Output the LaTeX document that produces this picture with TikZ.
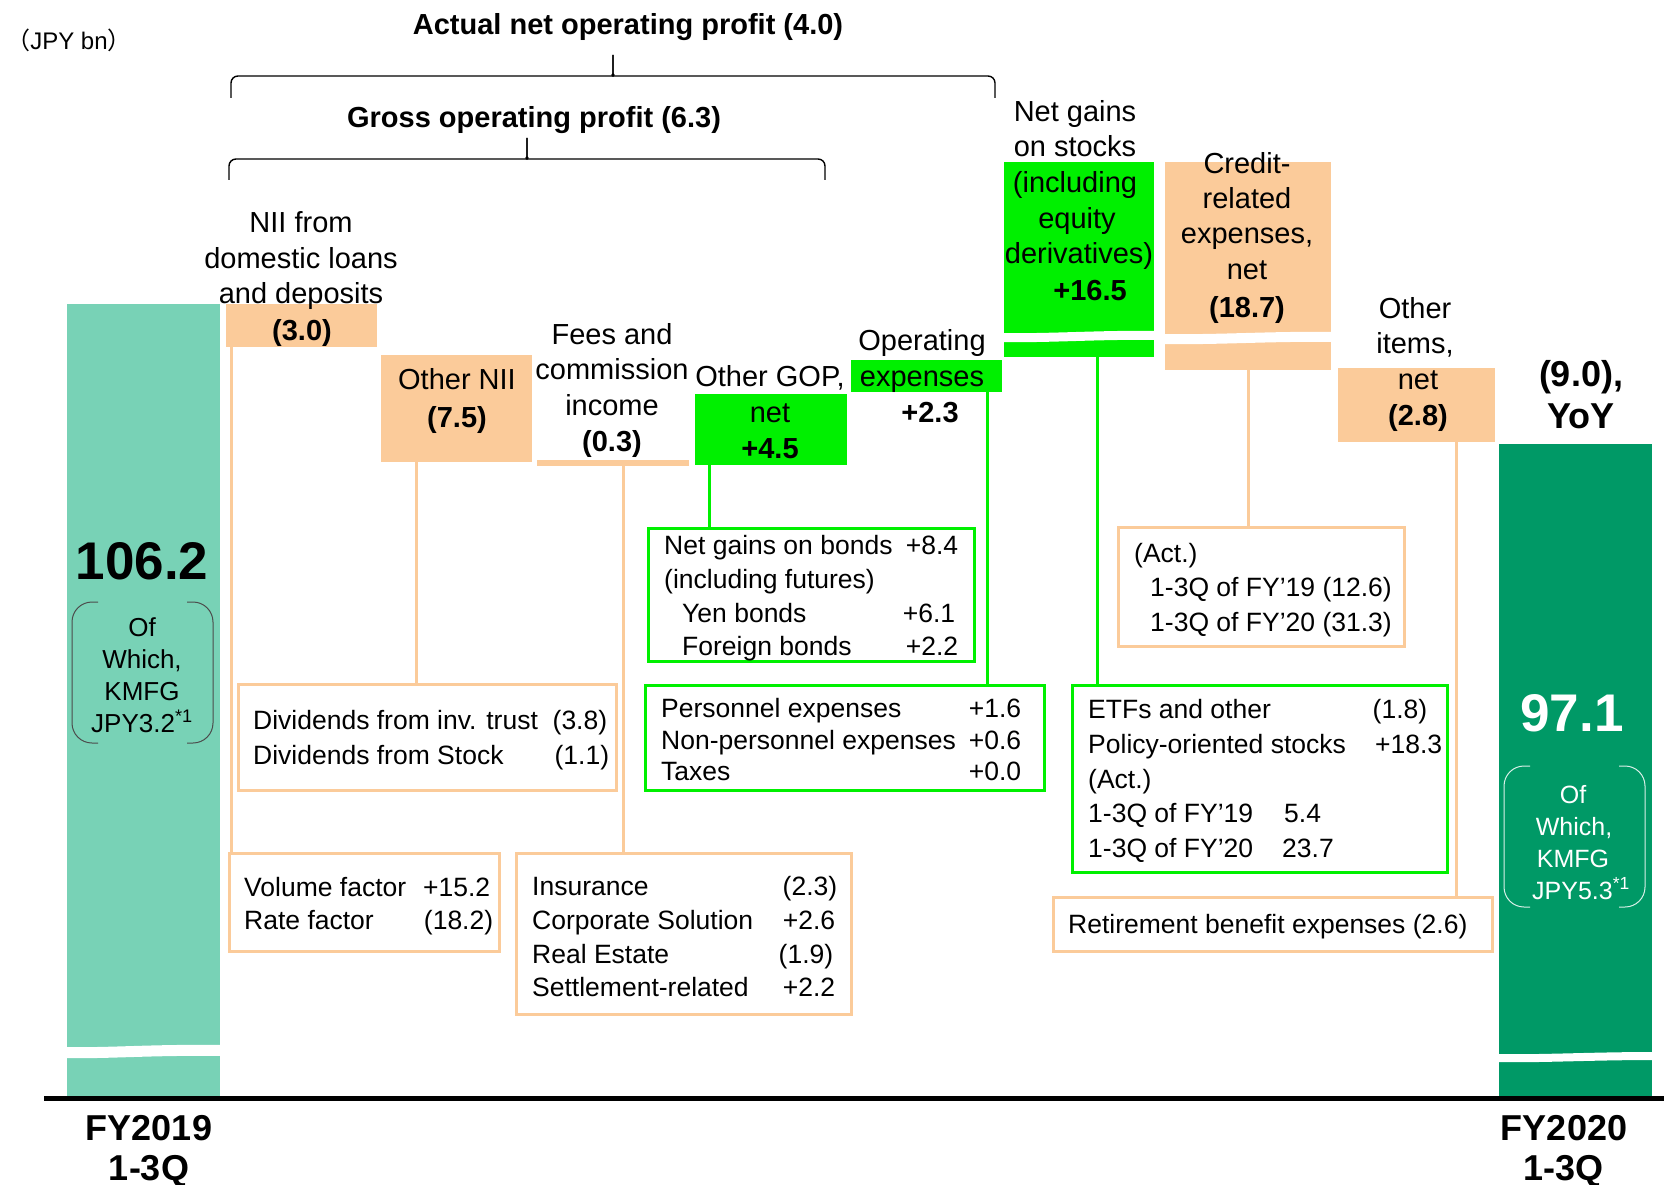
\documentclass[tikz,border=0pt]{standalone}
\usepackage{fontspec}
\setmainfont{Liberation Sans}
\newfontfamily\cjkfont{Noto Sans CJK JP}
\definecolor{cOrg}{RGB}{251,203,154}
\definecolor{cLime}{RGB}{0,240,0}
\definecolor{cDark}{RGB}{0,153,102}
\definecolor{cTeal}{RGB}{120,210,182}
\newcommand\lr[3]{\strut\makebox[#1pt][l]{#2\hfill#3}}
\begin{document}
\begin{tikzpicture}[x=1pt,y=-1pt,
 lab/.style={inner sep=0pt, anchor=base, font=\fontsize{29}{35}\selectfont},
 val/.style={inner sep=0pt, anchor=base, font=\fontsize{29}{35}\selectfont\bfseries},
 big/.style={inner sep=0pt, anchor=base, font=\fontsize{36}{42}\selectfont\bfseries},
 huge/.style={inner sep=0pt, anchor=base, font=\fontsize{53}{60}\selectfont\bfseries},
 small/.style={inner sep=0pt, anchor=base, font=\fontsize{26}{32}\selectfont},
 seg/.style={inner sep=0pt, anchor=north west, outer sep=0pt},
 ofill/.style={seg, fill=cOrg},
 gfill/.style={seg, fill=cLime},
 obox/.style={seg, draw=cOrg, line width=3pt},
 gbox/.style={seg, draw=cLime, line width=3pt},
 oline/.style={draw=cOrg, line width=3pt},
 gline/.style={draw=cLime, line width=3pt},
 det/.style={inner sep=0pt, anchor=north west, align=left},
 bracefig/.style={draw=black, line width=1.4pt, rounded corners=7pt},
]
\useasboundingbox (0,0) rectangle (1664,1185);

% ---- bars
\node[seg, fill=cTeal, minimum width=153pt, minimum height=792pt] (bar19) at (67,304) {};
\node[seg, fill=cDark, minimum width=153pt, minimum height=652pt] (bar20) at (1499,444) {};
\fill[white] (65,1047) .. controls (110,1048) and (150,1044) .. (222,1045) -- (222,1056) .. controls (150,1055) and (110,1059) .. (65,1058) -- cycle;
\fill[white] (1497,1054) .. controls (1540,1055) and (1590,1052) .. (1654,1052) -- (1654,1060) .. controls (1590,1060) and (1540,1063) .. (1497,1062) -- cycle;
\draw[line width=5pt] (44,1098) -- (1664,1098);

% ---- waterfall segments
\node[ofill, minimum width=151pt, minimum height=43pt] (nii) at (226,304) {};
\node[ofill, minimum width=151pt, minimum height=107pt] (onii) at (381,355) {};
\node[ofill, minimum width=152pt, minimum height=6pt] (fees) at (537,460) {};
\node[gfill, minimum width=152pt, minimum height=71pt] (gop) at (695,394) {};
\node[gfill, minimum width=151pt, minimum height=32pt] (opex) at (851,360) {};
\node[gfill, minimum width=150pt, minimum height=195pt] (stk) at (1004,162) {};
\node[ofill, minimum width=166pt, minimum height=208pt] (cred) at (1165,162) {};
\node[ofill, minimum width=157pt, minimum height=74pt] (oth) at (1338,368) {};
\fill[white] (1002,333) .. controls (1050,334) and (1100,330) .. (1156,331) -- (1156,340) .. controls (1100,339) and (1050,343) .. (1002,342) -- cycle;
\fill[white] (1163,334) .. controls (1220,335) and (1270,331) .. (1333,332) -- (1333,342) .. controls (1270,341) and (1220,345) .. (1163,344) -- cycle;

% ---- detail boxes
\node[obox, minimum width=270pt, minimum height=98pt] (vol) at (229,853) {};
\node[obox, minimum width=378pt, minimum height=106pt] (divb) at (238,684) {};
\node[obox, minimum width=335pt, minimum height=161pt] (ins) at (516,853) {};
\node[gbox, minimum width=326pt, minimum height=133pt] (bond) at (648,528) {};
\node[gbox, minimum width=399pt, minimum height=105pt] (pers) at (645,685) {};
\node[obox, minimum width=286pt, minimum height=119pt] (act) at (1118,527) {};
\node[gbox, minimum width=375pt, minimum height=187pt] (etf) at (1072,685) {};
\node[obox, minimum width=439pt, minimum height=54pt] (ret) at (1053,897) {};

% ---- connectors
\coordinate (k1) at (231,0);
\coordinate (k2) at (416,0);
\coordinate (k3) at (623,0);
\coordinate (k4) at (709,0);
\coordinate (k5) at (987,0);
\coordinate (k6) at (1097,0);
\coordinate (k7) at (1248,0);
\coordinate (k8) at (1456,0);
\draw[oline] (nii.south -| k1) -- (vol.north -| k1);
\draw[oline] (onii.south -| k2) -- (divb.north -| k2);
\draw[oline] (fees.south -| k3) -- (ins.north -| k3);
\draw[gline] (gop.south -| k4) -- (bond.north -| k4);
\draw[gline] (opex.south -| k5) -- (pers.north -| k5);
\draw[gline] (stk.south -| k6) -- (etf.north -| k6);
\draw[oline] (cred.south -| k7) -- (act.north -| k7);
\draw[oline] (oth.south -| k8) -- (ret.north -| k8);

% ---- detail texts
\node[det, font=\fontsize{26.5}{33.7}\selectfont] (tbond) at (664,531) {\lr{294}{Net gains on bonds}{+8.4}\\ \strut(including futures)\\ \lr{291}{\hspace*{18pt}Yen bonds}{+6.1}\\ \lr{294}{\hspace*{18pt}Foreign bonds}{+2.2}};
\node[det, font=\fontsize{26.5}{31.5}\selectfont] (tpers) at (661,695.5) {\lr{360}{Personnel expenses}{+1.6}\\ \lr{360}{Non-personnel expenses}{+0.6}\\ \lr{360}{Taxes}{+0.0}};
\node[det, font=\fontsize{26.5}{35}\selectfont] (tdiv) at (253,705) {\lr{354}{Dividends from inv. trust}{(3.8)}\\ \lr{356}{Dividends from Stock}{(1.1)}};
\node[det, font=\fontsize{26.5}{33}\selectfont] (tvol) at (244,873.4) {\lr{246}{Volume factor}{+15.2}\\ \lr{249}{Rate factor}{(18.2)}};
\node[det, font=\fontsize{26.5}{33.7}\selectfont] (tins) at (532,872) {\lr{305}{Insurance}{(2.3)}\\ \lr{303}{Corporate Solution}{+2.6}\\ \lr{301}{Real Estate}{(1.9)}\\ \lr{303}{Settlement-related}{+2.2}};
\node[det, font=\fontsize{26.5}{34.5}\selectfont] (tact) at (1134,538) {\strut(Act.)\\ \strut\hspace*{16pt}1-3Q of FY’19 (12.6)\\ \strut\hspace*{16pt}1-3Q of FY’20 (31.3)};
\node[det, font=\fontsize{26.5}{34.75}\selectfont] (tetf) at (1088,694) {\lr{339}{ETFs and other}{(1.8)}\\ \lr{354}{Policy-oriented stocks}{+18.3}\\ \strut(Act.)\\ \strut\makebox[196pt][l]{1-3Q of FY’19}5.4\\ \strut\makebox[194pt][l]{1-3Q of FY’20}23.7};
\node[det, font=\fontsize{26.5}{33}\selectfont] (tret) at (1068,910) {\strut Retirement benefit expenses (2.6)};

% ---- braces and titles
\draw[bracefig] (231,98) -- (231,76) -- (606,76) .. controls (611,76) and (613,73) .. (613,67) -- (613,55);
\draw[bracefig] (613,55) -- (613,67) .. controls (613,73) and (615,76) .. (620,76) -- (995,76) -- (995,98);
\draw[bracefig] (229,180) -- (229,159) -- (520,159) .. controls (525,159) and (527,156) .. (527,150) -- (527,138);
\draw[bracefig] (527,138) -- (527,150) .. controls (527,156) and (529,159) .. (534,159) -- (825,159) -- (825,180);
\node[val] (tt1) at (628,35) {Actual net operating profit (4.0)};
\node[val] (tt2) at (534,128) {Gross operating profit (6.3)};
\node[inner sep=0pt, anchor=base, font=\fontsize{24}{28}\selectfont] (unit) at (69,50) {{\cjkfont （}JPY bn{\cjkfont ）}};

% ---- segment labels
\node[lab] (a1) at (301,233) {NII from};
\node[lab] (a2) at (301,268) {domestic loans};
\node[lab] (a3) at (301,303) {and deposits};
\node[val] (a4) at (302,340) {(3.0)};
\node[lab] (b1) at (457,389) {Other NII};
\node[val] (b2) at (457,427) {(7.5)};
\node[lab] (c1) at (612,344) {Fees and};
\node[lab] (c2) at (612,379) {commission};
\node[lab] (c3) at (612,415) {income};
\node[val] (c4) at (612,451) {(0.3)};
\node[lab] (d1) at (770,386) {Other GOP,};
\node[lab] (d2) at (770,422) {net};
\node[val] (d3) at (770,458) {+4.5};
\node[lab] (e1) at (922,350) {Operating};
\node[lab] (e2) at (922,386) {expenses};
\node[val] (e3) at (930,422) {+2.3};
\node[lab] (f1) at (1075,122) {Net gains};
\node[lab] (f2) at (1075,157) {on stocks};
\node[lab] (f3) at (1075,193) {(including};
\node[lab] (f4) at (1077,228) {equity};
\node[lab] (f5) at (1079,263) {derivatives)};
\node[val] (f6) at (1090,300) {+16.5};
\node[lab] (g1) at (1247,174) {Credit-};
\node[lab] (g2) at (1247,208) {related};
\node[lab] (g3) at (1247,243) {expenses,};
\node[lab] (g4) at (1247,279) {net};
\node[val] (g5) at (1247,317) {(18.7)};
\node[lab] (h1) at (1415,318) {Other};
\node[lab] (h2) at (1415,353) {items,};
\node[lab] (h3) at (1418,389) {net};
\node[val] (h4) at (1418,425) {(2.8)};
\node[big] (yoy1) at (1581,386) {(9.0),};
\node[big] (yoy2) at (1581,428) {YoY};

% ---- bar totals
\node[huge] (v19) at (142,579) {106.2};
\draw[black!70, line width=1pt, rounded corners=20pt] (98,602) -- (72,602) -- (72,743) -- (98,743);
\draw[black!70, line width=1pt, rounded corners=20pt] (187,602) -- (213,602) -- (213,743) -- (187,743);
\node[small] (w1) at (142,636) {Of};
\node[small] (w2) at (142,668) {Which,};
\node[small] (w3) at (142,700) {KMFG};
\node[small] (w4) at (142,732) {JPY3.2\textsuperscript{*1}};
\node[huge, text=white] (v20) at (1572,731) {97.1};
\draw[white!85!cDark, line width=1pt, rounded corners=20pt] (1530,766) -- (1504,766) -- (1504,907) -- (1530,907);
\draw[white!85!cDark, line width=1pt, rounded corners=20pt] (1619,766) -- (1645,766) -- (1645,907) -- (1619,907);
\node[small, text=white, font=\fontsize{25}{30}\selectfont] (x1) at (1573,803) {Of};
\node[small, text=white, font=\fontsize{25}{30}\selectfont] (x2) at (1574,835) {Which,};
\node[small, text=white, font=\fontsize{25}{30}\selectfont] (x3) at (1573,867) {KMFG};
\node[small, text=white, font=\fontsize{25}{30}\selectfont] (x4) at (1581,899) {JPY5.3\textsuperscript{*1}};

% ---- axis labels
\node[big] (ax1) at (149,1140) {FY2019};
\node[big] (ax2) at (149,1180) {1-3Q};
\node[big] (ax3) at (1564,1140) {FY2020};
\node[big] (ax4) at (1563,1180) {1-3Q};
\end{tikzpicture}
\end{document}
